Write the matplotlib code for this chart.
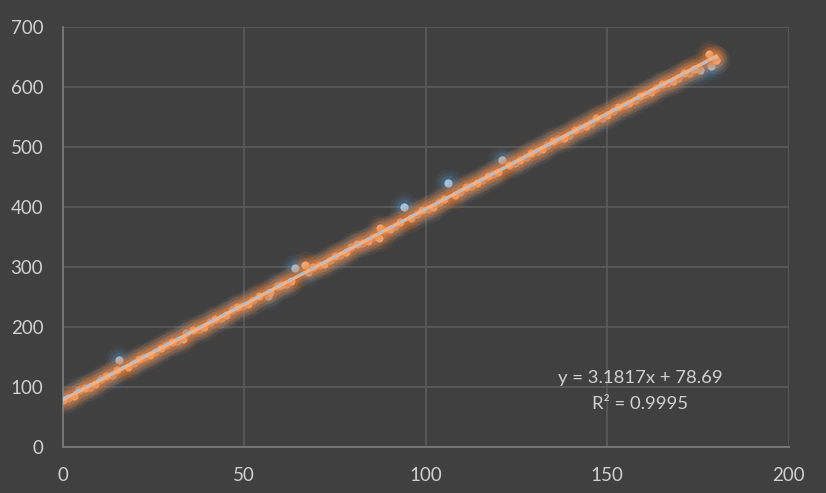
import numpy as np
import matplotlib.pyplot as plt

# series 1 (blue)
x_blue = [1.5, 4.5, 7.5, 10.5, 13.5, 15.5, 19.5, 22.5, 25.5, 28.5, 31.5, 34, 37.5, 40.5, 43.5,
          46.5, 49.5, 52.5, 56.5, 59, 61.5, 64, 67.5, 70.5, 73.5, 76.5, 79.5, 82.5, 85.5, 88.5,
          91.5, 94, 97.5, 100.5, 103.5, 106, 109.5, 112.5, 115.5, 118.5, 121, 124.5, 127.5,
          130.5, 133.5, 136.5, 139.5, 142.5, 145.5, 148.5, 151.5, 154.5, 157.5, 160.5, 163.5,
          166.5, 169.5, 172.5, 175.5, 178.5, 180]
y_blue = [82, 95, 101, 113, 121, 145, 140, 151, 158, 171, 177, 190, 197, 208, 215,
          228, 235, 246, 252, 268, 272, 298, 292, 303, 312, 321, 333, 340, 350, 362,
          368, 400, 388, 397, 408, 440, 425, 436, 446, 455, 478, 474, 484,
          494, 503, 513, 521, 532, 541, 549, 560, 570, 578, 589, 599,
          607, 615, 624, 628, 636, 645]

# series 2 (orange)
x_orange = [0, 3, 6, 9, 12, 15, 18, 21, 24, 27, 30, 33, 36, 39, 42, 45, 48, 51, 54, 57, 60,
            63, 66.7, 69, 72, 75, 78, 81, 84, 87, 87.5, 90, 93, 96, 99, 102, 105, 108, 111, 114,
            117, 120, 123, 126, 129, 132, 135, 138, 141, 144, 147, 150, 153, 156, 159, 162,
            165, 168, 171, 174, 178, 180]
y_orange = [79, 86, 99, 105, 118, 128, 134, 147, 153, 166, 176, 181, 195, 201, 214, 220, 233,
            239, 252, 258, 271, 277, 303, 300, 306, 319, 325, 338, 344, 348, 365, 363, 376, 382,
            395, 401, 414, 420, 433, 440, 452, 459, 471, 478, 490, 497, 510, 516, 529, 535,
            548, 554, 567, 573, 586, 592, 605, 611, 624, 630, 656, 645]

eq_text = "y = 3.1817x + 78.69"
r2_text = "R² = 0.9995"

bg = '#404040'
grid_c = '#595959'
txt_c = '#D0D0D0'

plt.rcParams['font.family'] = ['Lato', 'DejaVu Sans']

fig = plt.figure(figsize=(8.26, 4.93), dpi=100, facecolor=bg)
ax = fig.add_axes([0.076, 0.093, 0.879, 0.852])
ax.set_facecolor(bg)

# glow + markers, blue
for s, a in [(420, 0.07), (250, 0.11), (130, 0.20)]:
    ax.scatter(x_blue, y_blue, s=s, color='#5B9BD5', alpha=a, linewidths=0, zorder=2)
ax.scatter(x_blue, y_blue, s=36, color='#9DC3E6', linewidths=0, zorder=3)

# glow + markers, orange
for s, a in [(400, 0.07), (240, 0.12), (120, 0.20)]:
    ax.scatter(x_orange, y_orange, s=s, color='#ED7D31', alpha=a, linewidths=0, zorder=4)
ax.scatter(x_orange, y_orange, s=34, color='#F4B183', linewidths=0, zorder=5)

# trendlines
xx = np.array([0, 180])
a_o, b_o = np.polyfit(x_orange, y_orange, 1)
for lw, a in [(16, 0.12), (11, 0.18), (7, 0.30)]:
    ax.plot(xx, a_o * xx + b_o, color='#ED7D31', lw=lw, alpha=a, solid_capstyle='round', zorder=6)
ax.plot(xx, a_o * xx + b_o, color='#F4B183', lw=2.4, zorder=7)

a_b, b_b = np.polyfit(x_blue, y_blue, 1)
ax.plot(xx, a_b * xx + b_b, color='#9DC3E6', lw=1.3, ls=(0, (4, 3)), zorder=8)

ax.text(159, 116, eq_text, ha='center', va='center', color=txt_c, fontsize=13.3)
ax.text(159, 72, r2_text, ha='center', va='center', color=txt_c, fontsize=13.3)

ax.set_xlim(0, 200)
ax.set_ylim(0, 700)
ax.set_xticks(np.arange(0, 201, 50))
ax.set_yticks(np.arange(0, 701, 100))
ax.grid(True, color=grid_c, lw=1.3)
ax.set_axisbelow(True)
for sp in ['top', 'right']:
    ax.spines[sp].set_visible(False)
for sp in ['left', 'bottom']:
    ax.spines[sp].set_color('#7A7A7A')
    ax.spines[sp].set_linewidth(1.3)
ax.tick_params(colors=txt_c, labelsize=13.5, length=0, pad=14)
ax.tick_params(axis='y', pad=14)
for lab in ax.get_xticklabels() + ax.get_yticklabels():
    lab.set_color(txt_c)

fig.savefig('out.png', dpi=100, facecolor=bg)
